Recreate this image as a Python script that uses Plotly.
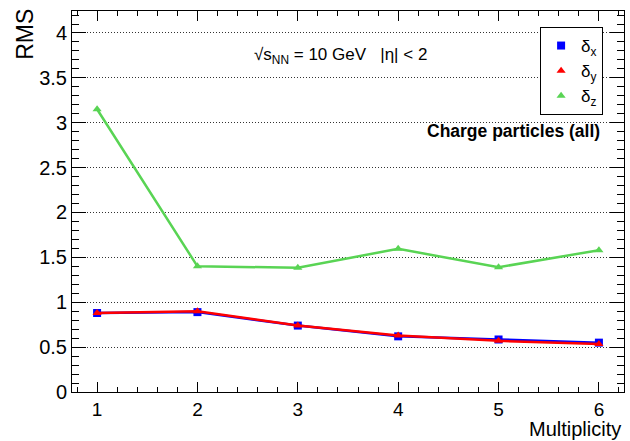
import plotly.graph_objects as go

multiplicity = [1, 2, 3, 4, 5, 6]
rms_dx = [0.88, 0.89, 0.74, 0.62, 0.585, 0.55]
rms_dy = [0.88, 0.90, 0.74, 0.63, 0.57, 0.535]
rms_dz = [3.15, 1.40, 1.385, 1.595, 1.39, 1.58]

names = ["δ<sub>x</sub>", "δ<sub>y</sub>", "δ<sub>z</sub>"]
colors = ["#0000ff", "#ff0000", "#59d454"]
symbols = ["square", "triangle-up", "triangle-up"]
series = [rms_dx, rms_dy, rms_dz]

FONT = "Liberation Sans, Arial, Helvetica, sans-serif"

fig = go.Figure()
for ys, c, s in zip(series, colors, symbols):
    fig.add_trace(go.Scatter(x=multiplicity, y=ys, mode="lines+markers",
                             line=dict(color=c, width=2.5),
                             marker=dict(color=c, symbol=s, size=8),
                             showlegend=False))
for n, c, s in zip(names, colors, symbols):
    fig.add_trace(go.Scatter(x=[None], y=[None], mode="markers", name=n,
                             marker=dict(color=c, symbol=s, size=8)))

fig.update_layout(
    width=630, height=441,
    margin=dict(l=72, r=6, t=11, b=49),
    paper_bgcolor="white", plot_bgcolor="white",
    font=dict(family=FONT, color="black", size=20),
    legend=dict(x=0.848, y=0.958, xanchor="left", yanchor="top",
                bordercolor="black", borderwidth=1, bgcolor="white",
                font=dict(size=17), tracegroupgap=0, itemwidth=30),
    xaxis=dict(range=[0.75, 6.25], tickmode="array", tickvals=multiplicity,
               ticks="inside", ticklen=10, tickcolor="black", tickwidth=1,
               showline=True, linecolor="black", linewidth=1, mirror="allticks",
               showgrid=False, zeroline=False,
               minor=dict(dtick=0.2, ticks="inside", ticklen=5, tickcolor="black", showgrid=False),
               tickfont=dict(size=19)),
    yaxis=dict(range=[0, 4.245], tickmode="linear", tick0=0, dtick=0.5,
               ticks="inside", ticklen=14, tickcolor="black", tickwidth=1,
               showline=True, linecolor="black", linewidth=1, mirror="allticks",
               showgrid=True, gridcolor="#333333", griddash="1px,2px", gridwidth=1,
               zeroline=False,
               minor=dict(dtick=0.1, ticks="inside", ticklen=7, tickcolor="black", showgrid=False),
               tickfont=dict(size=20)),
)

fig.add_annotation(text="RMS", xref="paper", yref="paper", x=-0.085, y=1.01,
                   xanchor="center", yanchor="top", textangle=-90, showarrow=False,
                   font=dict(size=23))
fig.add_annotation(text="Multiplicity", xref="paper", yref="paper", x=0.997, y=-0.1286,
                   xanchor="right", yanchor="bottom", showarrow=False, borderpad=0,
                   font=dict(size=20))
fig.add_annotation(text="√s<sub>NN</sub> = 10 GeV   |η| < 2",
                   xref="paper", yref="paper", x=0.487, y=0.882, xanchor="center", yanchor="middle",
                   showarrow=False, font=dict(size=17))
fig.add_annotation(text="<b>Charge particles (all)</b>", xref="paper", yref="paper",
                   x=0.80, y=0.685, xanchor="center", yanchor="middle",
                   showarrow=False, font=dict(size=17.5))

fig.write_html("out.html")
